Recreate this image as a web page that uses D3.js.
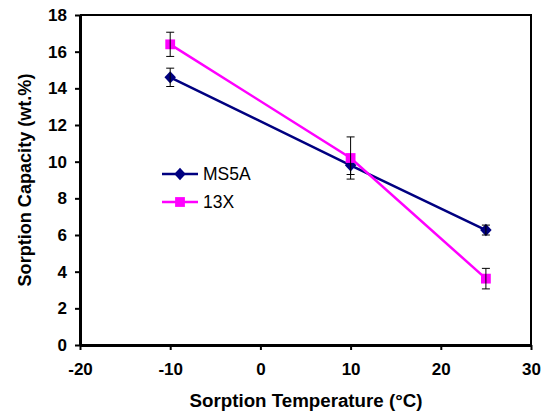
<!DOCTYPE html>
<html>
<head>
<meta charset="utf-8">
<script src="https://cdn.jsdelivr.net/npm/d3@7"></script>
<style>
  body { margin: 0; background: #fff; }
  svg { font-family: Arial, "Liberation Sans", sans-serif; }
</style>
</head>
<body>
<div id="container"></div>
<script>
const temps = [-10, 10, 25];
const ms5a = [14.6, 9.8, 6.27];
const ms5aErr = [0.5, 0.5, 0.27];
const x13 = [16.4, 10.2, 3.62];
const x13Err = [0.66, 1.15, 0.56];
const xTicks = [-20, -10, 0, 10, 20, 30];
const yTicks = [0, 2, 4, 6, 8, 10, 12, 14, 16, 18];

const width = 550, height = 414;
const margin = { left: 80, right: 19, top: 15, bottom: 69 };

const svg = d3.select('#container').append('svg')
    .attr('width', width)
    .attr('height', height);

const x = d3.scaleLinear().domain([-20, 30]).range([margin.left, width - margin.right]);
const y = d3.scaleLinear().domain([0, 18]).range([height - margin.bottom, margin.top]);

// fit a text element to a width measured on the reference
function fitWidth(sel, w) {
    const len = sel.node().getComputedTextLength();
    const fs = parseFloat(sel.attr('font-size'));
    sel.attr('font-size', fs * w / len);
}

// excel style diamond (close to a square turned 45 deg)
const excelDiamond = {
    draw(ctx, size) {
        const r = Math.sqrt(size / 2);
        ctx.moveTo(0, -r * 1.08);
        ctx.lineTo(r, 0);
        ctx.lineTo(0, r * 1.08);
        ctx.lineTo(-r, 0);
        ctx.closePath();
    }
};

// frame: top and right thinner
svg.append('path')
    .attr('d', `M${x(-20)},${y(18)}H${x(30)}V${y(0)}`)
    .attr('fill', 'none')
    .attr('stroke', '#000')
    .attr('stroke-width', 2);

const fmt = d => String(d);
const xAxis = svg.append('g')
    .attr('transform', `translate(0,${y(0)})`)
    .call(d3.axisBottom(x).tickValues(xTicks).tickFormat(fmt).tickSize(5).tickSizeOuter(0));
const yAxis = svg.append('g')
    .attr('transform', `translate(${x(-20)},0)`)
    .call(d3.axisLeft(y).tickValues(yTicks).tickFormat(fmt).tickSize(5).tickSizeOuter(0));

[xAxis, yAxis].forEach(g => {
    g.select('.domain').attr('stroke-width', 3);
    g.selectAll('.tick line').attr('stroke-width', 2);
    g.selectAll('.tick text')
        .attr('font-size', 17)
        .attr('font-weight', 'bold')
        .attr('font-family', 'Arial, "Liberation Sans", sans-serif')
        .attr('fill', '#000');
});
xAxis.selectAll('.tick text').attr('y', 0).attr('dy', 0)
    .attr('transform', 'translate(0,30)');
yAxis.selectAll('.tick text').attr('x', -13);

const xTitle = svg.append('text')
    .attr('x', 306)
    .attr('y', 407)
    .attr('text-anchor', 'middle')
    .attr('font-size', 18)
    .attr('font-weight', 'bold')
    .text('Sorption Temperature (°C)');
fitWidth(xTitle, 233);

const yTitle = svg.append('text')
    .attr('transform', `translate(31,${(y(0) + y(18)) / 2}) rotate(-90)`)
    .attr('text-anchor', 'middle')
    .attr('font-size', 17)
    .attr('font-weight', 'bold')
    .text('Sorption Capacity (wt.%)');
fitWidth(yTitle, 213);

const series = [
    { name: 'MS5A', vals: ms5a, err: ms5aErr, color: '#000080', shape: excelDiamond, size: 66 },
    { name: '13X', vals: x13, err: x13Err, color: '#FF00FF', shape: d3.symbolSquare, size: 96 }
];

const line = d3.line().x(d => x(d[0])).y(d => y(d[1]));

series.forEach(s => {
    const pts = temps.map((t, i) => [t, s.vals[i], s.err[i]]);
    svg.append('path')
        .attr('d', line(pts))
        .attr('fill', 'none')
        .attr('stroke', s.color)
        .attr('stroke-width', 2.5);
});

series.forEach(s => {
    const pts = temps.map((t, i) => [t, s.vals[i], s.err[i]]);
    const g = svg.append('g');
    g.selectAll('path.sym')
        .data(pts)
        .join('path')
        .attr('class', 'sym')
        .attr('transform', d => `translate(${x(d[0])},${y(d[1])})`)
        .attr('d', d3.symbol(s.shape, s.size))
        .attr('fill', s.color);
    const eb = g.selectAll('g.err').data(pts).join('g').attr('class', 'err')
        .attr('stroke', '#000').attr('stroke-width', 1);
    eb.append('line')
        .attr('x1', d => x(d[0])).attr('x2', d => x(d[0]))
        .attr('y1', d => y(d[1] + d[2])).attr('y2', d => y(d[1] - d[2]));
    eb.append('line')
        .attr('x1', d => x(d[0]) - 4).attr('x2', d => x(d[0]) + 4)
        .attr('y1', d => y(d[1] + d[2])).attr('y2', d => y(d[1] + d[2]));
    eb.append('line')
        .attr('x1', d => x(d[0]) - 4).attr('x2', d => x(d[0]) + 4)
        .attr('y1', d => y(d[1] - d[2])).attr('y2', d => y(d[1] - d[2]));
});

// legend
const legend = svg.append('g').attr('transform', 'translate(162,174)');
series.forEach((s, i) => {
    const row = legend.append('g').attr('transform', `translate(0,${i * 28})`);
    row.append('line')
        .attr('x1', 0).attr('x2', 36)
        .attr('stroke', s.color).attr('stroke-width', 2.5);
    row.append('path')
        .attr('transform', 'translate(18,0)')
        .attr('d', d3.symbol(s.shape, s.size))
        .attr('fill', s.color);
    row.append('text')
        .attr('x', 41).attr('dy', '0.36em')
        .attr('font-size', 17.5)
        .text(s.name);
});
</script>
</body>
</html>
